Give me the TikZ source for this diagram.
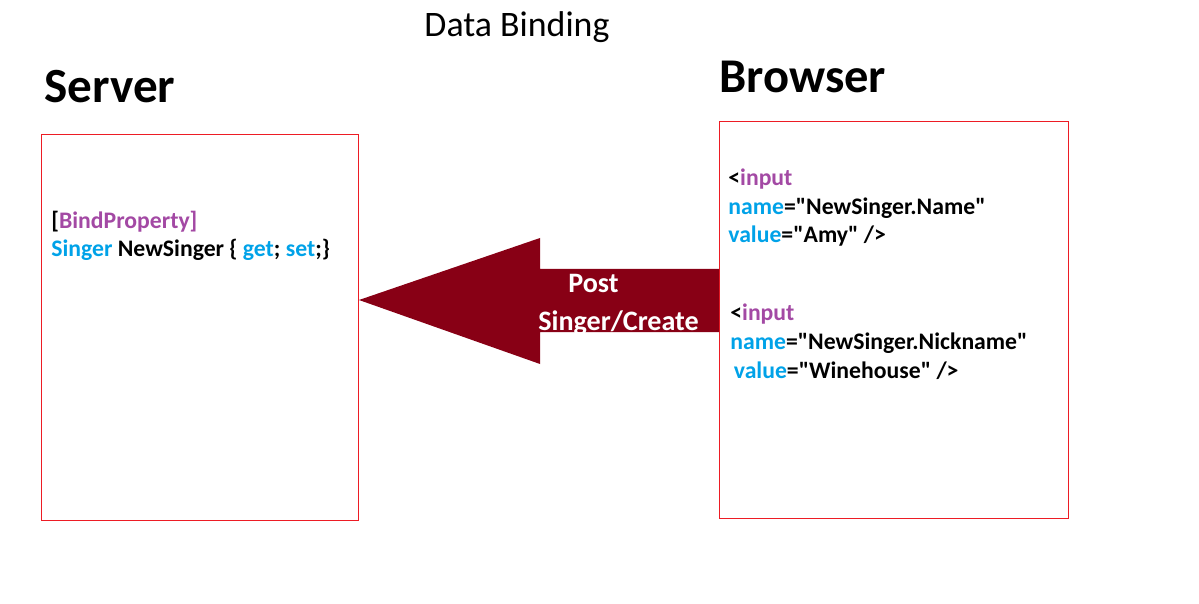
\documentclass[tikz,border=0pt]{standalone}
\usepackage{fontspec}
\setmainfont{Carlito}
\usetikzlibrary{positioning}
\definecolor{kwpurple}{HTML}{A349A4}
\definecolor{kwblue}{HTML}{00A2E8}
\definecolor{boxred}{HTML}{ED1C24}
\definecolor{arrowred}{HTML}{880015}
\newcommand{\dq}{\textquotedbl}
\tikzset{box/.style={draw=boxred,line width=0.6pt,anchor=north west,inner sep=0pt},
  code/.style={inner sep=0pt,anchor=base west,align=left,font=\bfseries\fontsize{13.5}{16.4}\selectfont},
  heading/.style={inner sep=0pt,anchor=base west,font=\bfseries\fontsize{28}{32}\selectfont}}

\begin{document}
\begin{tikzpicture}[x=0.02cm,y=-0.02cm]
        \useasboundingbox (0,0) rectangle (1199,604);
        \node[inner sep=0pt,anchor=base,font=\fontsize{20.4}{24}\selectfont] (title) at (517,37) {Data Binding};
        \node[heading] (server) at (44,103) {Server};
        \node[heading,font=\bfseries\fontsize{27.6}{32}\selectfont] (browser) at (719,93) {Browser};
        \node[box,minimum width=6.34cm,minimum height=7.72cm] (srvbox) at (41,134) {};
        \node[box,minimum width=6.98cm,minimum height=7.94cm] (brwbox) at (719,121) {};
        % anchor base = last line
        \node[code] (prop) at (51,257) {[\textcolor{kwpurple}{BindProperty]}\\
          \textcolor{kwblue}{Singer} NewSinger \{ \textcolor{kwblue}{get}; \textcolor{kwblue}{set};\}};
        \node[code] (name) at (728,243) {<\textcolor{kwpurple}{input}\\
          \textcolor{kwblue}{name}=\dq NewSinger.Name\dq\\
          \textcolor{kwblue}{value}=\dq Amy\dq{} />};
        \node[code] (nick) at (730,378) {<\textcolor{kwpurple}{input}\\
          \textcolor{kwblue}{name}=\dq NewSinger.Nickname\dq\\
          \hspace*{2pt}\textcolor{kwblue}{value}=\dq Winehouse\dq{} />};
        \fill[arrowred] (brwbox.west |- 0,269) -- (540,269) -- (540,238) -- (srvbox.east |- 0,300)
          -- (540,364) -- (540,332) -- (brwbox.west |- 0,332) -- cycle;
        \node[code,text=white,font=\bfseries\fontsize{16}{21.5}\selectfont] (post) at (538,330)
          {\hspace*{0.6cm}Post\\Singer/Create};
    \end{tikzpicture}
\end{document}
